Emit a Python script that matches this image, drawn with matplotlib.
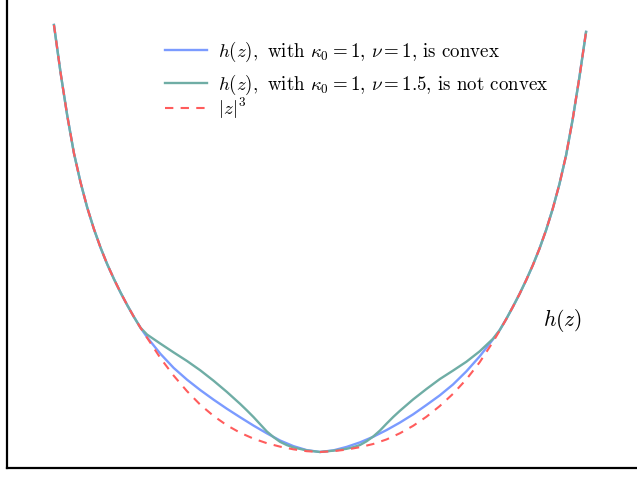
import matplotlib
matplotlib.use("Agg")
import matplotlib.pyplot as plt

plt.rcParams['mathtext.fontset'] = 'cm'
plt.rcParams['font.family'] = ['cmr10', 'DejaVu Serif']
plt.rcParams['axes.unicode_minus'] = False

# ---- data ----
# |z|^3 reference curve
z_cube = [-2.0, -1.95, -1.9, -1.85, -1.8, -1.75, -1.7, -1.65, -1.6, -1.55, -1.5, -1.45,
          -1.4, -1.35, -1.3, -1.2, -1.1, -1.0, -0.9, -0.8, -0.7, -0.6, -0.5, -0.4,
          -0.3, -0.2, -0.1, 0.0, 0.1, 0.2, 0.3, 0.4, 0.5, 0.6, 0.7, 0.8, 0.9, 1.0,
          1.1, 1.2, 1.3, 1.35, 1.4, 1.45, 1.5, 1.55, 1.6, 1.65, 1.7, 1.75, 1.8,
          1.85, 1.9, 1.95, 2.0]
v_cube = [8.0, 7.1, 6.3, 5.6, 5.05, 4.58, 4.18, 3.83, 3.52, 3.245, 2.99, 2.755,
          2.535, 2.33, 2.14, 1.76, 1.43, 1.14, 0.885, 0.675, 0.50, 0.36, 0.25, 0.165,
          0.10, 0.05, 0.015, 0.0, 0.015, 0.045, 0.09, 0.15, 0.235, 0.35, 0.49, 0.66, 0.86, 1.09,
          1.36, 1.68, 2.06, 2.27, 2.49, 2.72, 2.96, 3.22, 3.50, 3.81, 4.16, 4.56, 5.02,
          5.56, 6.24, 7.02, 7.87]

# h(z), kappa0 = 1, nu = 1 (convex)
z_h1 = [-2.0, -1.95, -1.9, -1.85, -1.8, -1.75, -1.7, -1.65, -1.6, -1.55, -1.5, -1.45,
        -1.4, -1.35, -1.3, -1.2, -1.1, -1.0, -0.9, -0.8, -0.7, -0.6, -0.5, -0.4,
        -0.3, -0.2, -0.1, 0.0, 0.1, 0.2, 0.3, 0.4, 0.5, 0.6, 0.7, 0.8, 0.9, 1.0,
        1.1, 1.2, 1.3, 1.35, 1.4, 1.45, 1.5, 1.55, 1.6, 1.65, 1.7, 1.75, 1.8,
        1.85, 1.9, 1.95, 2.0]
v_h1 = [8.0, 7.1, 6.3, 5.6, 5.05, 4.58, 4.18, 3.83, 3.52, 3.245, 2.99, 2.755,
        2.535, 2.33, 2.15, 1.84, 1.575, 1.355, 1.16, 0.98, 0.81, 0.65, 0.495, 0.35,
        0.215, 0.11, 0.035, 0.0, 0.03, 0.095, 0.18, 0.285, 0.41, 0.55, 0.705, 0.88, 1.06, 1.265,
        1.51, 1.79, 2.11, 2.28, 2.49, 2.72, 2.96, 3.22, 3.50, 3.81, 4.16, 4.56, 5.02,
        5.56, 6.24, 7.02, 7.87]

# h(z), kappa0 = 1, nu = 1.5 (not convex)
z_h2 = [-2.0, -1.95, -1.9, -1.85, -1.8, -1.75, -1.7, -1.65, -1.6, -1.55, -1.5, -1.45,
        -1.4, -1.35, -1.3, -1.2, -1.1, -1.0, -0.9, -0.8, -0.7, -0.6, -0.55, -0.5,
        -0.45, -0.4, -0.35, -0.3, -0.25, -0.2, -0.1, 0.0, 0.1, 0.2, 0.25, 0.3, 0.35,
        0.4, 0.45, 0.5, 0.55, 0.6, 0.7, 0.8, 0.9, 1.0, 1.1, 1.2, 1.3, 1.35, 1.4,
        1.45, 1.5, 1.55, 1.6, 1.65, 1.7, 1.75, 1.8, 1.85, 1.9, 1.95, 2.0]
v_h2 = [8.0, 7.1, 6.3, 5.6, 5.05, 4.58, 4.18, 3.83, 3.52, 3.245, 2.99, 2.755,
        2.535, 2.33, 2.20, 2.03, 1.865, 1.705, 1.53, 1.335, 1.125, 0.90, 0.78, 0.655,
        0.52, 0.385, 0.28, 0.19, 0.13, 0.085, 0.03, 0.0, 0.025, 0.06, 0.09, 0.13, 0.20,
        0.29, 0.40, 0.53, 0.655, 0.77, 0.985, 1.18, 1.365, 1.525, 1.69, 1.885, 2.12, 2.28, 2.49,
        2.72, 2.96, 3.22, 3.50, 3.81, 4.16, 4.56, 5.02, 5.56, 6.24, 7.02, 7.87]

labels = [r'$h(z),$ with $\kappa_0 = 1$, $\nu = 1$, is convex',
          r'$h(z),$ with $\kappa_0 = 1$, $\nu = 1.5$, is not convex',
          r'$|z|^3$']
annot_text = r'$h(z)$'

colors = ['#7b9bff', '#6fada5', '#ff5c5c']
dash = (0, (4, 3.5))

# ---- figure ----
fig = plt.figure(figsize=(6.37, 4.78), dpi=100)
ax = fig.add_axes([7/637, 10/478, 630/637, 468/478])

l1, = ax.plot(z_h1, v_h1, color=colors[0], lw=1.7, label=labels[0])
l2, = ax.plot(z_h2, v_h2, color=colors[1], lw=1.7, label=labels[1])
l3, = ax.plot(z_cube, v_cube, color=colors[2], lw=1.5, ls=dash, label=labels[2])

ax.set_xlim(-2.353, 2.383)
ax.set_ylim(-0.30, 8.468)
ax.set_xticks([])
ax.set_yticks([])
for s in ['top', 'right']:
    ax.spines[s].set_visible(False)
for s in ['left', 'bottom']:
    ax.spines[s].set_linewidth(1.6)
    ax.spines[s].set_color('black')

ax.text(1.82, 2.47, annot_text, fontsize=15.5, ha='center', va='center')

common = dict(frameon=False, fontsize=13.6, handlelength=2.2, handletextpad=0.62,
              borderpad=0.0, borderaxespad=0.0, bbox_transform=fig.transFigure,
              loc='upper left')
leg1 = ax.legend(handles=[l1, l2], labelspacing=0.45,
                 bbox_to_anchor=(165/637, 1 - 40/478), **common)
ax.add_artist(leg1)
leg2 = ax.legend(handles=[l3], bbox_to_anchor=(165/637, 1 - 96/478), **common)

fig.savefig('out.png', dpi=100)
